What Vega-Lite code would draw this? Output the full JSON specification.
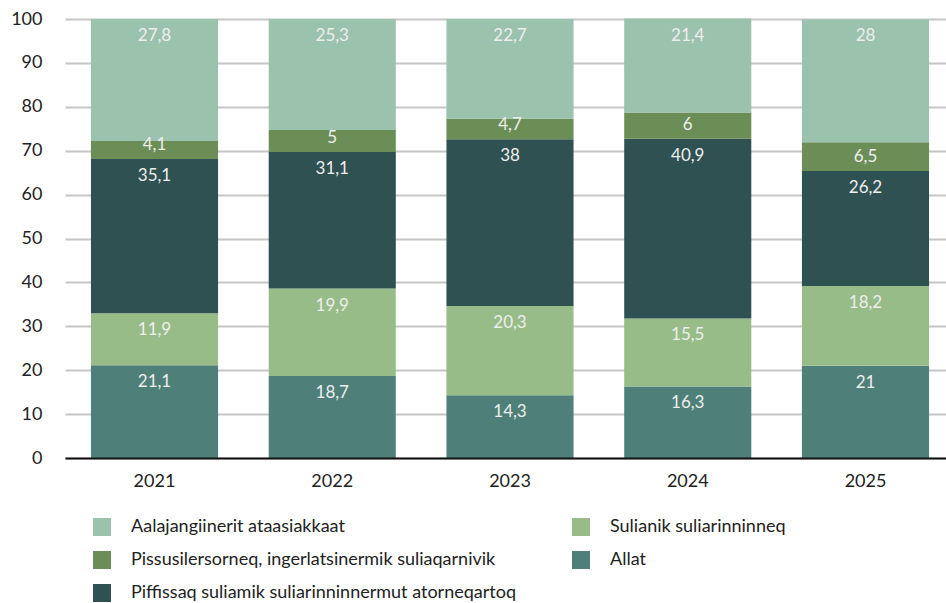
{
  "$schema": "https://vega.github.io/schema/vega-lite/v6.json",
  "width": 890,
  "height": 439,
  "autosize": {"type": "none"},
  "padding": {"left": 65, "top": 19, "right": 0, "bottom": 145},
  "background": "white",
  "config": {
    "view": {"stroke": null},
    "font": "Lato",
    "locale": {"number": {"decimal": ",", "thousands": ".", "grouping": [3], "currency": ["", ""]}}
  },
  "data": {
    "values": [
      {"year": "2021", "cat": "Allat", "value": 21.1},
      {"year": "2021", "cat": "Sulianik suliarinninneq", "value": 11.9},
      {"year": "2021", "cat": "Piffissaq suliamik suliarinninnermut atorneqartoq", "value": 35.1},
      {"year": "2021", "cat": "Pissusilersorneq, ingerlatsinermik suliaqarnivik", "value": 4.1},
      {"year": "2021", "cat": "Aalajangiinerit ataasiakkaat", "value": 27.8},
      {"year": "2022", "cat": "Allat", "value": 18.7},
      {"year": "2022", "cat": "Sulianik suliarinninneq", "value": 19.9},
      {"year": "2022", "cat": "Piffissaq suliamik suliarinninnermut atorneqartoq", "value": 31.1},
      {"year": "2022", "cat": "Pissusilersorneq, ingerlatsinermik suliaqarnivik", "value": 5},
      {"year": "2022", "cat": "Aalajangiinerit ataasiakkaat", "value": 25.3},
      {"year": "2023", "cat": "Allat", "value": 14.3},
      {"year": "2023", "cat": "Sulianik suliarinninneq", "value": 20.3},
      {"year": "2023", "cat": "Piffissaq suliamik suliarinninnermut atorneqartoq", "value": 38},
      {"year": "2023", "cat": "Pissusilersorneq, ingerlatsinermik suliaqarnivik", "value": 4.7},
      {"year": "2023", "cat": "Aalajangiinerit ataasiakkaat", "value": 22.7},
      {"year": "2024", "cat": "Allat", "value": 16.3},
      {"year": "2024", "cat": "Sulianik suliarinninneq", "value": 15.5},
      {"year": "2024", "cat": "Piffissaq suliamik suliarinninnermut atorneqartoq", "value": 40.9},
      {"year": "2024", "cat": "Pissusilersorneq, ingerlatsinermik suliaqarnivik", "value": 6},
      {"year": "2024", "cat": "Aalajangiinerit ataasiakkaat", "value": 21.4},
      {"year": "2025", "cat": "Allat", "value": 21},
      {"year": "2025", "cat": "Sulianik suliarinninneq", "value": 18.2},
      {"year": "2025", "cat": "Piffissaq suliamik suliarinninnermut atorneqartoq", "value": 26.2},
      {"year": "2025", "cat": "Pissusilersorneq, ingerlatsinermik suliaqarnivik", "value": 6.5},
      {"year": "2025", "cat": "Aalajangiinerit ataasiakkaat", "value": 28}
    ]
  },
  "transform": [
    {"calculate": "indexof(['Allat','Sulianik suliarinninneq','Piffissaq suliamik suliarinninnermut atorneqartoq','Pissusilersorneq, ingerlatsinermik suliaqarnivik','Aalajangiinerit ataasiakkaat'], datum.cat)", "as": "ord"},
    {"stack": "value", "groupby": ["year"], "sort": [{"field": "ord", "order": "ascending"}], "as": ["v0", "v1"]},
    {"calculate": "max(datum.v1 - 3.87, datum.v0 + 3.19)", "as": "ly"}
  ],
  "encoding": {
    "x": {
      "field": "year", "type": "nominal",
      "scale": {"paddingInner": 0.285, "paddingOuter": 0.146},
      "axis": {"title": null, "labelAngle": 0, "labelFontSize": 18, "labelColor": "#222222", "labelPadding": 14, "ticks": false, "domainColor": "#111111", "domainWidth": 2, "zindex": 1}
    }
  },
  "layer": [
    {
      "mark": {"type": "bar"},
      "encoding": {
        "y": {
          "field": "v1", "type": "quantitative",
          "scale": {"domain": [0, 100], "nice": false},
          "axis": {"title": null, "values": [0,10,20,30,40,50,60,70,80,90,100], "labelFontSize": 18, "labelColor": "#222222", "labelPadding": 23, "ticks": false, "domain": false, "gridColor": "#c6c6c6", "gridWidth": 2}
        },
        "y2": {"field": "v0"},
        "color": {
          "field": "cat", "type": "nominal",
          "scale": {
            "domain": ["Aalajangiinerit ataasiakkaat", "Pissusilersorneq, ingerlatsinermik suliaqarnivik", "Piffissaq suliamik suliarinninnermut atorneqartoq", "Sulianik suliarinninneq", "Allat"],
            "range": ["#9bc2ac", "#6a8e56", "#2f5151", "#98bc88", "#4e8079"]
          },
          "legend": {
            "title": null, "orient": "none", "legendX": 28, "legendY": 499, "columns": 2, "columnPadding": 56,
            "symbolType": "square", "symbolSize": 324, "symbolStrokeWidth": 0, "symbolOpacity": 1,
            "labelFontSize": 18, "labelColor": "#222222", "labelOffset": 20, "rowPadding": 15, "labelLimit": 500
          }
        }
      }
    },
    {
      "mark": {"type": "text", "baseline": "middle", "fontSize": 17, "color": "#eeeeee"},
      "encoding": {
        "y": {"field": "ly", "type": "quantitative"},
        "text": {"field": "value", "type": "quantitative", "format": ".1~f"}
      }
    }
  ]
}
